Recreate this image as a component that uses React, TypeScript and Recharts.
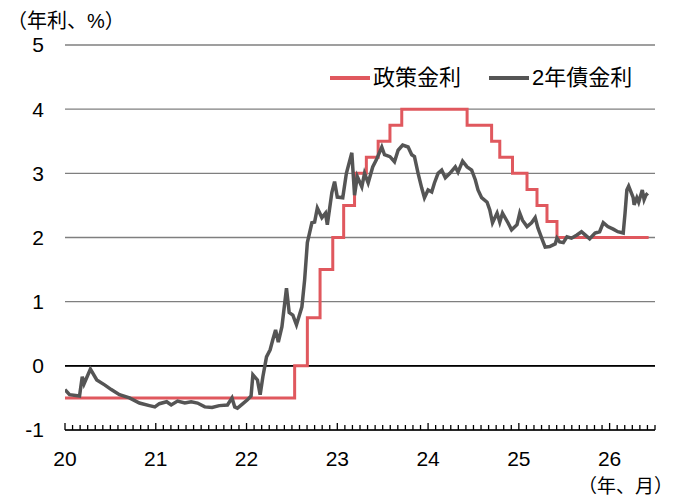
import React from 'react';
import { LineChart, Line, XAxis, YAxis, CartesianGrid, ReferenceLine } from 'recharts';

// policy rate (step changes), x = year (20 = Jan 2020)
const policyDates = [20.0, 22.53, 22.67, 22.81, 22.95, 23.07, 23.19, 23.32, 23.45, 23.58, 23.71, 24.43, 24.7, 24.79, 24.93, 25.09, 25.2, 25.31, 25.42, 26.43];
const policyRates = [-0.5, 0, 0.75, 1.5, 2.0, 2.5, 3.0, 3.25, 3.5, 3.75, 4.0, 3.75, 3.5, 3.25, 3.0, 2.75, 2.5, 2.25, 2.0, 2.0];

// 2-year yield
const bondDates = [
  20.0, 20.05, 20.16, 20.19, 20.21, 20.28, 20.35, 20.44, 20.51, 20.6, 20.71, 20.82, 20.93, 20.99,
  21.04, 21.12, 21.17, 21.24, 21.32, 21.39, 21.46, 21.54, 21.62, 21.7, 21.79, 21.84, 21.87, 21.9, 21.96,
  22.01, 22.05, 22.07, 22.12, 22.15, 22.18, 22.22, 22.26, 22.29, 22.32, 22.35, 22.39, 22.44, 22.47, 22.51,
  22.55, 22.61, 22.64, 22.67, 22.72, 22.75, 22.78, 22.83, 22.87, 22.89, 22.94, 22.97,
  23.0, 23.06, 23.1, 23.16, 23.19, 23.22, 23.27, 23.3, 23.34, 23.39, 23.43, 23.49, 23.52, 23.58, 23.63,
  23.67, 23.72, 23.78, 23.82, 23.85, 23.89, 23.93, 23.96,
  24.0, 24.04, 24.07, 24.11, 24.15, 24.19, 24.24, 24.3, 24.33, 24.38, 24.43, 24.48, 24.52, 24.55, 24.59,
  24.65, 24.68, 24.71, 24.76, 24.79, 24.82, 24.88, 24.92, 24.98,
  25.01, 25.04, 25.09, 25.14, 25.18, 25.21, 25.26, 25.29, 25.34, 25.4, 25.42, 25.45, 25.49, 25.53, 25.58,
  25.64, 25.69, 25.73, 25.78, 25.84, 25.89, 25.93, 25.98,
  26.04, 26.09, 26.15, 26.17, 26.19, 26.21, 26.26, 26.27, 26.3, 26.32, 26.36, 26.38, 26.4, 26.42,
];
const bondYields = [
  -0.37, -0.45, -0.47, -0.17, -0.28, -0.05, -0.22, -0.3, -0.37, -0.45, -0.5, -0.58, -0.62, -0.64,
  -0.59, -0.56, -0.61, -0.55, -0.58, -0.56, -0.58, -0.64, -0.65, -0.62, -0.61, -0.5, -0.64, -0.66, -0.59,
  -0.53, -0.47, -0.14, -0.22, -0.45, -0.17, 0.14, 0.25, 0.41, 0.56, 0.37, 0.61, 1.21, 0.83, 0.79,
  0.64, 0.92, 1.34, 1.92, 2.23, 2.24, 2.46, 2.31, 2.38, 2.2, 2.7, 2.87,
  2.63, 2.62, 3.0, 3.32, 2.66, 2.95, 2.79, 3.0, 2.85, 3.1, 3.21, 3.41, 3.29, 3.26, 3.18,
  3.36, 3.44, 3.41, 3.29, 3.26, 3.0, 2.77, 2.62,
  2.74, 2.71, 2.85, 3.0, 3.05, 2.93, 3.0, 3.1, 3.02, 3.19, 3.1, 3.05, 2.9, 2.74, 2.62,
  2.55, 2.43, 2.23, 2.38, 2.24, 2.38, 2.23, 2.12, 2.2,
  2.38, 2.27, 2.17, 2.23, 2.31, 2.15, 1.96, 1.85, 1.86, 1.9, 1.99, 1.93, 1.92, 2.01, 1.99,
  2.04, 2.09, 2.04, 1.98, 2.07, 2.09, 2.23, 2.17,
  2.13, 2.09, 2.07, 2.38, 2.74, 2.8, 2.62, 2.51, 2.62, 2.55, 2.74, 2.59, 2.66, 2.69,
];

const yearLabels = ['20', '21', '22', '23', '24', '25', '26'];
const yTicks = [-1, 0, 1, 2, 3, 4, 5];
const monthsShown = 78; // Jan 2020 .. Jul 2026

const policyData = policyDates.map((x, i) => ({ x, v: policyRates[i] }));
const bondData = bondDates.map((x, i) => ({ x, v: bondYields[i] }));
const monthTicks = Array.from({ length: monthsShown + 1 }, (_, i) => 20 + i / 12);

const FONT = "'Liberation Sans', Arial, 'Noto Sans CJK JP', sans-serif";
const RED = '#e0585e';
const GRAY = '#555555';

const MonthTick = (props: any) => {
  const { x, y, index } = props;
  const isYear = index % 12 === 0;
  const label = isYear ? yearLabels[index / 12] : null;
  return (
    <g>
      <line x1={x} x2={x} y1={y} y2={y - (isYear ? 7 : 5)} stroke="#000" strokeWidth={1.3} />
      {label && (
        <text x={x} y={y + 36} textAnchor="middle" fontSize={21} fontFamily={FONT} fill="#000">
          {label}
        </text>
      )}
    </g>
  );
};

const LegendItem = ({ color, label }: { color: string; label: string }) => (
  <div style={{ display: 'flex', alignItems: 'center', marginRight: 28 }}>
    <div style={{ width: 40, height: 3.5, background: color, marginRight: 3 }} />
    <span>{label}</span>
  </div>
);

export default function App() {
  return (
    <div style={{ position: 'absolute', left: 0, top: 0, width: 689, height: 499, background: '#fff', fontFamily: FONT, color: '#000', overflow: 'hidden' }}>
      <LineChart width={689} height={499} margin={{ top: 45, right: 34, left: 0, bottom: 29 }}>
        <CartesianGrid horizontal vertical={false} stroke="#7f7f7f" strokeWidth={1.3} />
        <XAxis
          dataKey="x"
          type="number"
          domain={[20, 20 + monthsShown / 12]}
          ticks={monthTicks}
          interval={0}
          tick={<MonthTick />}
          tickSize={0}
          tickMargin={0}
          height={40}
          axisLine={{ stroke: '#000', strokeWidth: 1.6 }}
          tickLine={false}
          allowDataOverflow
        />
        <YAxis
          type="number"
          domain={[-1, 5]}
          ticks={yTicks}
          width={65}
          axisLine={false}
          tickLine={false}
          tickMargin={15}
          tick={{ fontSize: 21, fill: '#000', fontFamily: FONT }}
        />
        <ReferenceLine y={0} stroke="#000" strokeWidth={1.6} />
        <Line data={policyData} dataKey="v" type="stepAfter" stroke={RED} strokeWidth={3} dot={false} isAnimationActive={false} />
        <Line data={bondData} dataKey="v" type="linear" stroke={GRAY} strokeWidth={3.5} dot={false} isAnimationActive={false} />
      </LineChart>
      <div style={{ position: 'absolute', left: 7, top: 10, fontSize: 20, lineHeight: '22px' }}>（年利、%）</div>
      <div style={{ position: 'absolute', left: 578, top: 477, fontSize: 19, lineHeight: '20px', whiteSpace: 'nowrap' }}>（年、月）</div>
      <div style={{ position: 'absolute', left: 330, top: 65, fontSize: 22, lineHeight: '26px', display: 'flex', whiteSpace: 'nowrap' }}>
        <LegendItem color={RED} label="政策金利" />
        <LegendItem color={GRAY} label="2年債金利" />
      </div>
    </div>
  );
}
